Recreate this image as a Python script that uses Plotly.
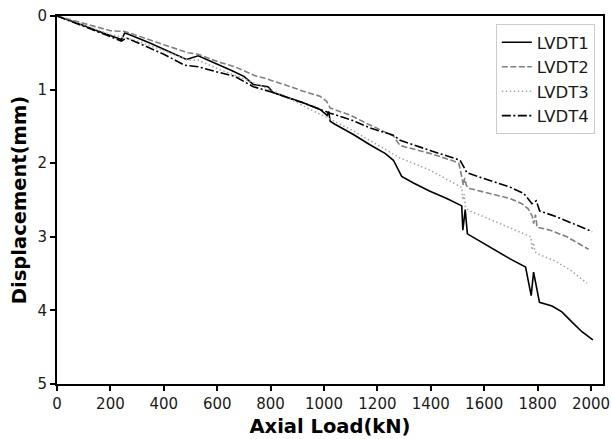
import plotly.graph_objects as go

# LVDT1
x1 = [0, 50, 100, 150, 200, 241, 254, 270, 350, 420, 485, 529, 580, 654, 700, 735, 772, 790, 810, 870, 922, 985, 1012, 1018, 1023, 1041, 1110, 1172, 1230, 1260, 1272, 1291, 1335, 1397, 1460, 1516, 1520, 1529, 1537, 1610, 1697, 1755, 1776, 1785, 1807, 1854, 1891, 1929, 1966, 2007]
y1 = [0, 0.06, 0.13, 0.2, 0.26, 0.32, 0.23, 0.25, 0.37, 0.48, 0.59, 0.54, 0.62, 0.74, 0.82, 0.93, 0.95, 0.96, 1.04, 1.11, 1.18, 1.27, 1.35, 1.30, 1.43, 1.47, 1.61, 1.75, 1.87, 1.96, 2.05, 2.18, 2.27, 2.38, 2.48, 2.58, 2.91, 2.63, 2.96, 3.12, 3.30, 3.41, 3.80, 3.48, 3.89, 3.94, 4.02, 4.16, 4.29, 4.40]

# LVDT2
x2 = [0, 50, 100, 150, 200, 254, 300, 400, 491, 529, 610, 666, 748, 772, 850, 920, 985, 1010, 1023, 1100, 1160, 1260, 1285, 1400, 1485, 1505, 1517, 1522, 1527, 1533, 1541, 1620, 1697, 1741, 1765, 1780, 1785, 1792, 1798, 1847, 1910, 1991]
y2 = [0, 0.05, 0.1, 0.15, 0.2, 0.21, 0.27, 0.39, 0.50, 0.52, 0.63, 0.69, 0.82, 0.84, 0.93, 1.02, 1.09, 1.16, 1.25, 1.35, 1.46, 1.63, 1.76, 1.87, 1.97, 2.0, 2.2, 2.3, 2.2, 2.3, 2.34, 2.41, 2.48, 2.55, 2.62, 2.72, 2.82, 2.7, 2.87, 2.91, 3.0, 3.17]

# LVDT3
x3 = [0, 100, 200, 250, 300, 400, 490, 530, 610, 700, 780, 850, 922, 1000, 1110, 1200, 1285, 1335, 1400, 1460, 1516, 1520, 1525, 1530, 1541, 1620, 1697, 1748, 1775, 1779, 1785, 1790, 1798, 1860, 1922, 1985]
y3 = [0, 0.12, 0.25, 0.29, 0.34, 0.47, 0.6, 0.6, 0.73, 0.85, 0.97, 1.08, 1.22, 1.36, 1.56, 1.75, 1.93, 2.0, 2.1, 2.22, 2.33, 2.5, 2.42, 2.6, 2.64, 2.76, 2.88, 2.95, 3.0, 3.18, 3.08, 3.2, 3.23, 3.32, 3.45, 3.63]

# LVDT4
x4 = [0, 50, 100, 150, 200, 241, 260, 300, 400, 479, 529, 610, 666, 735, 800, 922, 1023, 1100, 1172, 1260, 1285, 1400, 1510, 1535, 1622, 1700, 1748, 1779, 1795, 1808, 1873, 1935, 2004]
y4 = [0, 0.07, 0.13, 0.2, 0.28, 0.34, 0.3, 0.36, 0.52, 0.67, 0.69, 0.77, 0.82, 0.96, 1.03, 1.18, 1.32, 1.41, 1.52, 1.62, 1.69, 1.83, 1.96, 2.13, 2.23, 2.33, 2.41, 2.55, 2.51, 2.65, 2.73, 2.82, 2.93]

names = ["LVDT1", "LVDT2", "LVDT3", "LVDT4"]
xticks = [0, 200, 400, 600, 800, 1000, 1200, 1400, 1600, 1800, 2000]
yticks = [0, 1, 2, 3, 4, 5]

series = [(x1, y1), (x2, y2), (x3, y3), (x4, y4)]
styles = [
    dict(color="black", dash="solid", width=1.6),
    dict(color="#808080", dash="6px,2.5px", width=1.6),
    dict(color="#a8a8a8", dash="1.5px,2.5px", width=1.6),
    dict(color="black", dash="9px,2.5px,2px,2.5px", width=1.6),
]

fig = go.Figure()
for (xs, ys), nm, st in zip(series, names, styles):
    fig.add_trace(go.Scatter(x=xs, y=ys, mode="lines", name=nm, line=st))

font = "DejaVu Sans"
fig.update_layout(
    width=611, height=439,
    margin=dict(l=57, r=8, t=16, b=55),
    paper_bgcolor="white", plot_bgcolor="white",
    font=dict(family=font, size=15, color="#1a1a1a"),
    showlegend=True,
    legend=dict(x=0.985, y=0.978, xanchor="right", yanchor="top",
                bgcolor="white", bordercolor="#cccccc", borderwidth=1,
                font=dict(size=16.5, family=font, color="#1a1a1a"),
                tracegroupgap=0, itemwidth=30),
)
fig.update_xaxes(
    range=[0, 2045], tickvals=xticks, ticktext=[str(v) for v in xticks],
    showgrid=False, zeroline=False, automargin=False,
    showline=True, mirror=True, linecolor="black", linewidth=2,
    ticks="outside", ticklen=5, tickwidth=1.5, tickcolor="black",
    title=dict(text="<b>Axial Load(kN)</b>", font=dict(size=19.5, family=font, color="black"), standoff=7),
)
fig.update_yaxes(
    range=[5, 0], tickvals=yticks, ticktext=[str(v) for v in yticks],
    showgrid=False, zeroline=False, automargin=False,
    showline=True, mirror=True, linecolor="black", linewidth=2,
    ticks="outside", ticklen=5, tickwidth=1.5, tickcolor="black",
    title=dict(text="<b>Displacement(mm)</b>", font=dict(size=19.5, family=font, color="black"), standoff=6),
)
fig.write_html("out.html")
